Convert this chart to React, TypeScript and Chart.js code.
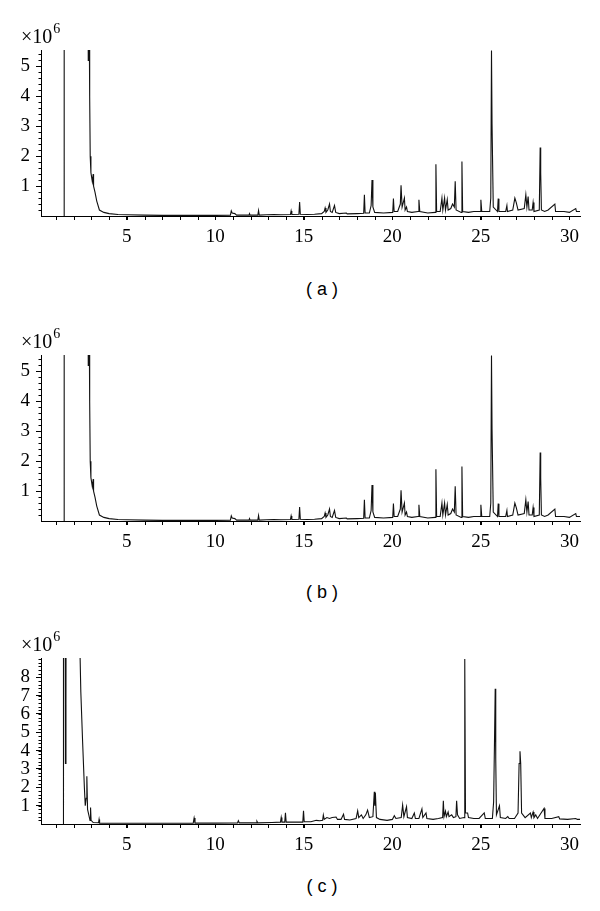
import React, { useEffect, useRef } from 'react';
import { Chart, registerables } from 'chart.js';

Chart.register(...registerables);

// Retention time axis (min)
const xMin = 0.15;
const xMax = 30.6;
const xTickLabels = [5, 10, 15, 20, 25, 30];
const xMinorStep = 1;

// Intensity axis (×10^6)
const yMaxAB = 5.55;
const yMaxC = 9.05;
const yTicksAB = [1, 2, 3, 4, 5];
const yTicksC = [1, 2, 3, 4, 5, 6, 7, 8];
const yMinorStep = 0.2;

const captions = ['( a )', '( b )', '( c )'];

// [retention time, intensity ×10^6] samples (a)
const traceA: [number, number][] = [
  [1.45, 0], [1.46, 20], [2.75, 20], [2.82, 5.2], [2.86, 20], [2.88, 6], [2.9, 4.0], [2.93, 2.0],
  [2.97, 1.45], [3.05, 1.15], [3.1, 1.4], [3.12, 1.0], [3.2, 0.8], [3.3, 0.5], [3.45, 0.2],
  [3.7, 0.12], [4.0, 0.08], [4.5, 0.05], [5.0, 0.04], [6, 0.03], [7, 0.02], [8, 0.02], [9, 0.02],
  [10, 0.02], [10.85, 0.03], [10.9, 0.17], [10.95, 0.1], [11.1, 0.08], [11.2, 0.03], [11.9, 0.03],
  [11.93, 0.08], [11.96, 0.03], [12.4, 0.03], [12.44, 0.18], [12.48, 0.03], [12.9, 0.04], [13.3, 0.05],
  [13.7, 0.04], [14.24, 0.05], [14.28, 0.17], [14.32, 0.05], [14.72, 0.06], [14.76, 0.47], [14.8, 0.06],
  [15.2, 0.05], [15.6, 0.06], [16.0, 0.08], [16.15, 0.15], [16.2, 0.27], [16.25, 0.12], [16.35, 0.2],
  [16.45, 0.4], [16.5, 0.15], [16.6, 0.12], [16.73, 0.35], [16.8, 0.12], [17.0, 0.08], [17.4, 0.1],
  [17.45, 0.07], [18.0, 0.08], [18.38, 0.09], [18.42, 0.71], [18.46, 0.1], [18.7, 0.1], [18.8, 0.35],
  [18.85, 1.2], [18.9, 0.3], [19.0, 0.12], [19.5, 0.1], [20.02, 0.12], [20.06, 0.58], [20.1, 0.15],
  [20.3, 0.15], [20.45, 0.4], [20.49, 1.03], [20.55, 0.3], [20.68, 0.6], [20.72, 0.2], [20.8, 0.3],
  [20.85, 0.15], [21.1, 0.12], [21.45, 0.15], [21.5, 0.54], [21.55, 0.15], [22.0, 0.1], [22.42, 0.12],
  [22.46, 1.73], [22.5, 0.15], [22.7, 0.15], [22.8, 0.6], [22.85, 0.2], [22.95, 0.6], [23.0, 0.2],
  [23.1, 0.55], [23.15, 0.2], [23.3, 0.25], [23.4, 0.4], [23.5, 0.3], [23.55, 1.16], [23.6, 0.2],
  [23.89, 0.12], [23.93, 1.82], [23.97, 0.15], [24.3, 0.12], [24.6, 0.15], [24.96, 0.15], [25.0, 0.54],
  [25.05, 0.15], [25.5, 0.15], [25.56, 0.6], [25.6, 5.53], [25.63, 3.1], [25.67, 3.1], [25.7, 0.3],
  [25.94, 0.15], [25.98, 0.58], [26.02, 0.15], [26.4, 0.15], [26.47, 0.35], [26.5, 0.15], [26.8, 0.2],
  [26.92, 0.6], [27.0, 0.45], [27.1, 0.2], [27.45, 0.25], [27.54, 0.71], [27.6, 0.3], [27.67, 0.65],
  [27.72, 0.2], [27.9, 0.2], [27.95, 0.45], [28.0, 0.15], [28.3, 0.2], [28.35, 2.29], [28.38, 1.45],
  [28.42, 0.2], [28.6, 0.15], [28.8, 0.2], [29.18, 0.4], [29.22, 0.15], [29.7, 0.15], [30.0, 0.12],
  [30.36, 0.25], [30.4, 0.15], [30.6, 0.15],
];

// chromatogram (b) reads the same as (a)
const traceB: [number, number][] = traceA.map((p) => [p[0], p[1]] as [number, number]);

// chromatogram (c)
const traceC: [number, number][] = [
  [1.41, 0], [1.42, 20], [1.5, 20], [1.53, 3.3], [1.56, 6.5], [1.58, 20], [2.3, 20], [2.35, 9.5],
  [2.4, 7.2], [2.5, 4.5], [2.6, 2.0], [2.65, 1.0], [2.7, 1.4], [2.74, 2.6], [2.78, 0.8], [2.85, 0.5],
  [2.92, 0.2], [2.95, 0.9], [2.98, 0.2], [3.1, 0.08], [3.4, 0.07], [3.43, 0.25], [3.46, 0.05],
  [4.5, 0.04], [5.5, 0.04], [6.5, 0.04], [7.5, 0.04], [8.75, 0.05], [8.8, 0.33], [8.85, 0.05],
  [10, 0.05], [11.25, 0.06], [11.3, 0.18], [11.35, 0.06], [12.3, 0.06], [12.35, 0.15], [12.4, 0.06],
  [13.2, 0.08], [13.68, 0.1], [13.72, 0.36], [13.76, 0.1], [13.92, 0.1], [13.96, 0.61], [14.0, 0.1],
  [14.5, 0.1], [14.94, 0.1], [14.98, 0.72], [15.02, 0.12], [15.4, 0.12], [15.7, 0.2], [15.9, 0.18],
  [16.06, 0.2], [16.1, 0.49], [16.15, 0.25], [16.3, 0.35], [16.45, 0.3], [16.6, 0.35], [16.82, 0.38],
  [16.9, 0.25], [17.1, 0.25], [17.24, 0.53], [17.3, 0.25], [17.6, 0.22], [17.95, 0.3], [18.04, 0.72],
  [18.1, 0.35], [18.25, 0.5], [18.35, 0.3], [18.5, 0.5], [18.6, 0.76], [18.7, 0.35], [18.9, 0.4],
  [18.98, 1.76], [19.01, 1.0], [19.04, 1.7], [19.1, 0.35], [19.3, 0.25], [19.7, 0.2], [20.0, 0.25],
  [20.11, 0.45], [20.2, 0.3], [20.5, 0.35], [20.58, 1.03], [20.65, 0.4], [20.8, 0.94], [20.85, 0.35],
  [21.1, 0.3], [21.24, 0.6], [21.3, 0.3], [21.5, 0.3], [21.67, 0.82], [21.72, 0.35], [21.9, 0.6],
  [21.95, 0.3], [22.3, 0.25], [22.6, 0.3], [22.84, 0.35], [22.88, 1.27], [22.92, 0.4], [23.0, 0.7],
  [23.05, 0.4], [23.15, 0.65], [23.2, 0.4], [23.35, 0.5], [23.45, 0.35], [23.59, 0.4], [23.63, 1.27],
  [23.68, 0.5], [23.8, 0.3], [24.05, 0.35], [24.08, 5.47], [24.1, 9.0], [24.13, 0.6], [24.25, 0.6],
  [24.3, 0.35], [24.6, 0.3], [24.9, 0.3], [25.19, 0.6], [25.25, 0.3], [25.65, 0.3], [25.72, 1.2],
  [25.78, 5.2], [25.81, 7.37], [25.84, 3.57], [25.88, 0.5], [26.05, 0.99], [26.1, 0.35], [26.4, 0.3],
  [26.52, 0.4], [26.6, 0.3], [26.9, 0.3], [27.1, 0.6], [27.16, 3.3], [27.21, 3.97], [27.25, 3.3],
  [27.3, 0.6], [27.5, 0.35], [27.8, 0.6], [27.85, 0.35], [27.95, 0.65], [28.0, 0.35], [28.1, 0.5],
  [28.2, 0.3], [28.57, 0.85], [28.62, 0.3], [29.0, 0.3], [29.4, 0.4], [29.45, 0.28], [29.9, 0.25],
  [30.36, 0.3], [30.45, 0.25], [30.6, 0.25],
];

const SERIF = '"Liberation Serif", "DejaVu Serif", serif';
const SANS = '"Liberation Sans", Arial, sans-serif';

const CANVAS_H = 262;
const PLOT_TOP = 50;
const PLOT_BOTTOM = 216;
const PLOT_LEFT = 41;
const PLOT_RIGHT = 580;

const decorPlugin = {
  id: 'decor',
  afterDraw(chart: any, _args: any, opts: any) {
    const { ctx, chartArea } = chart;
    const xs = chart.scales.x;
    const ys = chart.scales.y;
    ctx.save();
    ctx.strokeStyle = '#000';
    ctx.lineWidth = 1;
    ctx.beginPath();
    for (let v = Math.ceil(xMin); v <= xMax; v += xMinorStep) {
      const px = Math.round(xs.getPixelForValue(v)) + 0.5;
      ctx.moveTo(px, chartArea.bottom);
      ctx.lineTo(px, chartArea.bottom + 4);
    }
    for (let k = 1; k * yMinorStep < opts.yMax; k++) {
      const py = Math.round(ys.getPixelForValue(k * yMinorStep)) + 0.5;
      ctx.moveTo(chartArea.left - 2.5, py);
      ctx.lineTo(chartArea.left, py);
    }
    ctx.stroke();
    ctx.fillStyle = '#000';
    ctx.textBaseline = 'alphabetic';
    ctx.textAlign = 'left';
    ctx.font = `20px ${SERIF}`;
    const base = chartArea.top - 7;
    ctx.fillText('\u00d710', 21, base);
    const w = ctx.measureText('\u00d710').width;
    ctx.font = `14px ${SERIF}`;
    ctx.fillText('6', 21 + w + 1, base - 10);
    ctx.restore();
  },
};

function Panel({ trace, yMax, yTicks, top }: { trace: [number, number][]; yMax: number; yTicks: number[]; top: number }) {
  const ref = useRef<HTMLCanvasElement | null>(null);
  useEffect(() => {
    if (!ref.current) return;
    const chart = new Chart(ref.current, {
      type: 'line',
      data: {
        datasets: [
          {
            data: trace.map(([x, y]) => ({ x, y })),
            borderColor: '#111',
            borderWidth: 1.1,
            pointRadius: 0,
            tension: 0,
            fill: false,
          },
        ],
      },
      options: {
        animation: false,
        responsive: false,
        events: [],
        layout: { padding: { top: PLOT_TOP, right: 600 - PLOT_RIGHT, left: 0, bottom: 0 } },
        plugins: { legend: { display: false }, tooltip: { enabled: false }, decor: { yMax } } as any,
        scales: {
          x: {
            type: 'linear',
            min: xMin,
            max: xMax,
            afterBuildTicks: (s: any) => {
              s.ticks = xTickLabels.map((v) => ({ value: v }));
            },
            afterFit: (s: any) => {
              s.height = CANVAS_H - PLOT_BOTTOM;
              s.paddingLeft = 0;
              s.paddingRight = 0;
            },
            grid: { drawOnChartArea: false, drawTicks: true, tickLength: 4, color: '#000' },
            border: { display: true, color: '#000', width: 1 },
            ticks: {
              autoSkip: false,
              maxRotation: 0,
              padding: 6,
              color: '#000',
              font: { family: SERIF, size: 19 },
              callback: (v: any) => String(v),
            },
          },
          y: {
            type: 'linear',
            min: 0,
            max: yMax,
            afterBuildTicks: (s: any) => {
              s.ticks = yTicks.map((v) => ({ value: v }));
            },
            afterFit: (s: any) => {
              s.width = PLOT_LEFT;
              s.paddingTop = 0;
              s.paddingBottom = 0;
            },
            grid: { drawOnChartArea: false, drawTicks: true, tickLength: 5, color: '#000' },
            border: { display: true, color: '#000', width: 1 },
            ticks: {
              autoSkip: false,
              padding: 6,
              color: '#000',
              font: { family: SERIF, size: 19 },
              callback: (v: any) => String(v),
            },
          },
        },
      },
      plugins: [decorPlugin],
    } as any);
    return () => chart.destroy();
  }, []);
  return (
    <div style={{ position: 'absolute', left: 0, top, width: 600, height: CANVAS_H }}>
      <canvas ref={ref} width={600} height={CANVAS_H} style={{ width: 600, height: CANVAS_H, display: 'block' }} />
    </div>
  );
}

const panelTops = [0, 305, 608];
const captionTops = [278, 581, 875];

export default function App() {
  const traces = [traceA, traceB, traceC];
  const maxes = [yMaxAB, yMaxAB, yMaxC];
  const ticks = [yTicksAB, yTicksAB, yTicksC];
  return (
    <div style={{ position: 'fixed', left: 0, top: 0, width: 600, height: 911, background: '#fff', overflow: 'hidden' }}>
      {traces.map((t, i) => (
        <Panel key={i} trace={t} yMax={maxes[i]} yTicks={ticks[i]} top={panelTops[i]} />
      ))}
      {captions.map((c, i) => (
        <div
          key={'c' + i}
          style={{
            position: 'absolute',
            left: 222,
            width: 200,
            top: captionTops[i],
            textAlign: 'center',
            fontFamily: SANS,
            fontSize: 18,
            lineHeight: '22px',
            color: '#000',
            whiteSpace: 'pre',
          }}
        >
          {c}
        </div>
      ))}
    </div>
  );
}
